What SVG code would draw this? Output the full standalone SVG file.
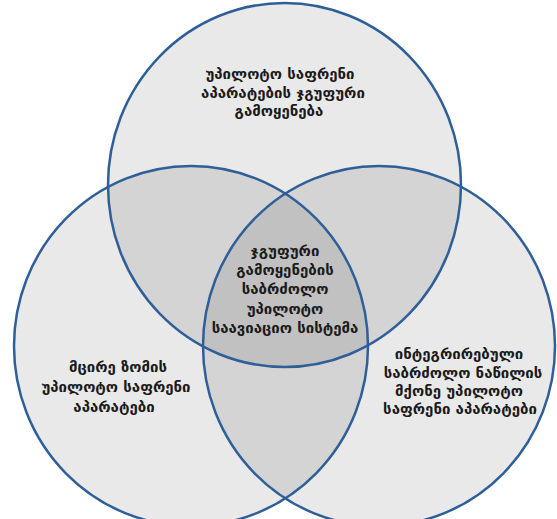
<svg xmlns="http://www.w3.org/2000/svg" width="557" height="519" viewBox="0 0 557 519">
<style>
.fill{fill:#000;fill-opacity:0.085;stroke:none}
.ring{fill:none;stroke:#2f5f98;stroke-width:2.5}
.t{font-family:"DejaVu Sans",sans-serif;font-size:15px;font-weight:bold;fill:#1a1a1a;text-anchor:middle}
</style>
<rect width="557" height="519" fill="#ffffff"/>
<g id="fills">
<ellipse class="fill" cx="284.5" cy="185" rx="176.5" ry="182"/>
<ellipse class="fill" cx="191" cy="346" rx="177" ry="180"/>
<ellipse class="fill" cx="379" cy="346" rx="176" ry="180"/>
</g>
<g id="node-top">
<ellipse class="ring" cx="284.5" cy="185" rx="176.5" ry="182"/>
<text class="t" x="280" y="79">უპილოტო საფრენი</text>
<text class="t" x="283" y="97.5">აპარატების ჯგუფური</text>
<text class="t" x="279" y="116">გამოყენება</text>
</g>
<g id="node-left">
<ellipse class="ring" cx="191" cy="346" rx="177" ry="180"/>
<text class="t" x="118" y="371.5">მცირე ზომის</text>
<text class="t" x="116" y="392">უპილოტო საფრენი</text>
<text class="t" x="114" y="411.5">აპარატები</text>
</g>
<g id="node-right">
<ellipse class="ring" cx="379" cy="346" rx="176" ry="180"/>
<text class="t" x="459" y="359">ინტეგრირებული</text>
<text class="t" x="463" y="377.5">საბრძოლო ნაწილის</text>
<text class="t" x="459" y="396">მქონე უპილოტო</text>
<text class="t" x="460" y="414">საფრენი აპარატები</text>
</g>
<g id="node-center">
<text class="t" x="285" y="256">ჯგუფური</text>
<text class="t" x="285" y="275">გამოყენების</text>
<text class="t" x="285" y="294">საბრძოლო</text>
<text class="t" x="285" y="313.5">უპილოტო</text>
<text class="t" x="285" y="332.5">საავიაციო სისტემა</text>
</g>
<g id="connectors"></g>
</svg>
